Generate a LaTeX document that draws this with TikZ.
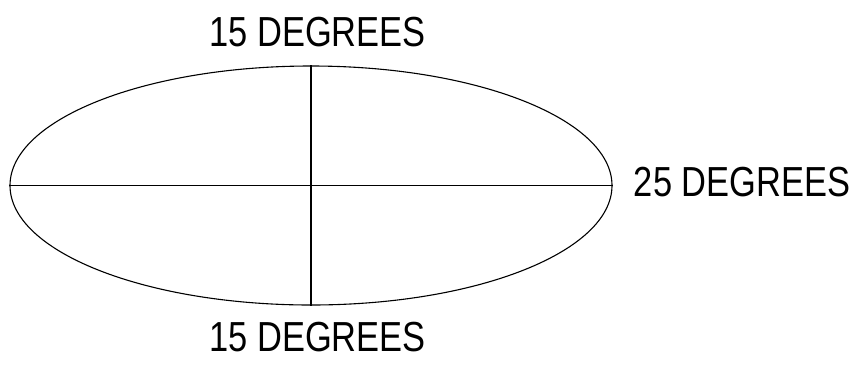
\documentclass[tikz,border=0pt]{standalone}
\usepackage{fontspec}
\newfontfamily\labfont[FakeStretch=0.82]{Liberation Sans}
\usetikzlibrary{shapes.geometric}
\begin{document}
\begin{tikzpicture}[x=1pt,y=-1pt,
  lab/.style={inner sep=0pt, font=\labfont\fontsize{42}{48}\selectfont},
  line/.style={line width=1.1pt}]
\useasboundingbox[fill=white] (0,0) rectangle (866,376);
\node (e) [ellipse, draw, line, minimum width=602pt, minimum height=239pt, inner sep=0pt] at (311,185.5) {};
\draw[line] (e.north) -- (e.south);
\draw[line] (e.west) -- (e.east);
\node (t) [lab] at (317.5,32) {15 DEGREES};
\node (b) [lab] at (317.5,337) {15 DEGREES};
\node (r) [lab] at (742,182) {25 DEGREES};
\end{tikzpicture}
\end{document}
